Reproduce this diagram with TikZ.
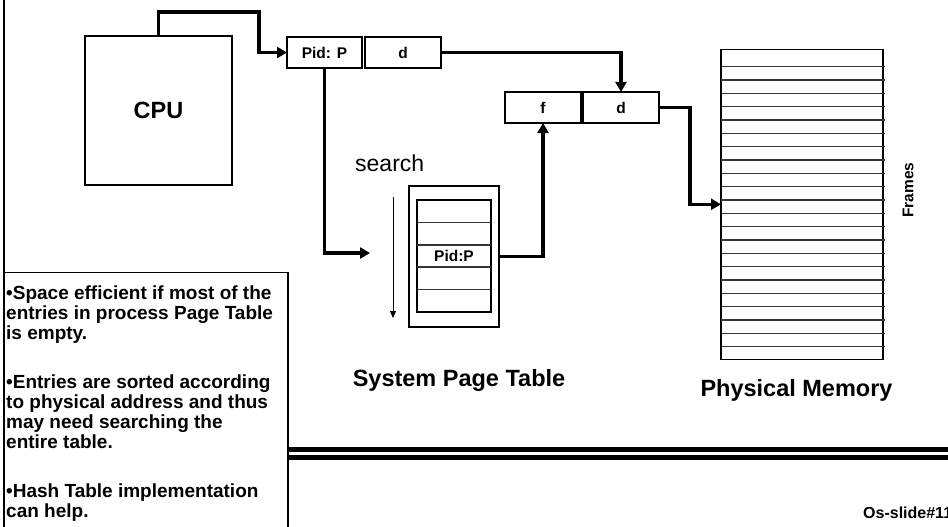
\documentclass[tikz,border=0pt]{standalone}
\usepackage{fontspec}
\setmainfont{Liberation Sans}
\usetikzlibrary{arrows.meta}
\begin{document}
\begin{tikzpicture}[x=1pt,y=-1pt,
  box/.style={draw, line width=1.2pt, inner sep=0pt, outer sep=0pt},
  cell/.style={box, minimum width=76pt, minimum height=31pt, font=\fontsize{15.5}{18}\selectfont\bfseries},
  small/.style={font=\fontsize{15.5}{18}\selectfont\bfseries, inner sep=0pt},
  big/.style={font=\fontsize{23.5}{28}\selectfont\bfseries, inner sep=0pt},
  bul/.style={font=\fontsize{19}{20}\selectfont\bfseries, anchor=base west, inner sep=0pt},
  flow/.style={line width=3.5pt, -{Triangle[length=10pt,width=11pt]}},
  thinflow/.style={line width=1pt, -{Triangle[length=7pt,width=6pt]}},
  rowline/.style={line width=1.6pt, black!80},
]
\useasboundingbox (0,0) rectangle (948,527);

% left margin rule
\draw[line width=2pt] (4,0) -- (4,527);

% CPU
\node[box, big, minimum width=147pt, minimum height=149pt] (cpu) at (158.5,110.5) {CPU};

% logical address
\node[cell, minimum width=75pt] (pid) at (324.5,52.5) {Pid: P};
\node[cell] (d1) at (403,52.5) {d};

% physical address
\node[cell] (f) at (543,107.5) {f};
\node[cell] (d2) at (621,107.5) {d};

% system page table
\node[box, minimum width=90pt, minimum height=141pt] (spt) at (454,256.5) {};
\node[box, minimum width=74pt, minimum height=112pt] (sptin) at (454,256) {};
\foreach \k in {1,...,4}
  \draw[rowline] (417,{200+22.4*\k}) -- (491,{200+22.4*\k});
\node[small] (sptpid) at (454,256) {Pid:P};
\node[anchor=base west, inner sep=0pt, font=\fontsize{23}{28}\selectfont] (search) at (355,171.5) {search};
\coordinate (s1) at (393,197);
\coordinate (s2) at (393,318);
\draw[thinflow] (s1) -- (s2);
\node[big, anchor=base] (sptlbl) at (459,386) {System Page Table};

% physical memory
\node[box, minimum width=162pt, minimum height=310pt] (mem) at (802,204.3) {};
\foreach \k in {0,...,21}
  \draw[rowline, line width=1.4pt] (721,{66.7+13.333*\k}) -- (885,{66.7+13.333*\k});
\node[small, rotate=90] (frames) at (908,190) {Frames};
\node[big, anchor=base] (memlbl) at (796.5,396) {Physical Memory};

% connectors
\coordinate (c1) at (259,12);
\draw[flow] (cpu.north) |- (c1) |- (pid.west);
\coordinate (c2) at (370,253);
\draw[flow] (pid.south) |- (c2);
\draw[flow] (d1.east) -| (d2.north);
\draw[flow] (spt.east) -| (f.south);
\coordinate (c3) at (690,150);
\draw[flow] (d2.east) -| (c3) |- (mem.west);

% notes box
\draw[line width=1.2pt] (4,540) |- (288,272.5) -- (288,540);
\node[bul] (n1) at (6,299) {•Space efficient if most of the};
\node[bul] (n2) at (6,319) {entries in process Page Table};
\node[bul] (n3) at (6,339) {is empty.};
\node[bul] (n4) at (6,388) {•Entries are sorted according};
\node[bul] (n5) at (6,408) {to physical address and thus};
\node[bul] (n6) at (6,428) {may need searching the};
\node[bul] (n7) at (6,448) {entire table.};
\node[bul] (n8) at (6,497) {•Hash Table implementation};
\node[bul] (n9) at (6,517) {can help.};

% footer rules
\draw[line width=5pt] (288,449.5) -- (948,449.5);
\draw[line width=5pt] (288,457.3) -- (948,457.3);
\node[anchor=base west, inner sep=0pt, font=\fontsize{16}{18}\selectfont\bfseries] (slide) at (863,518) {Os-slide\#11};
\end{tikzpicture}
\end{document}
